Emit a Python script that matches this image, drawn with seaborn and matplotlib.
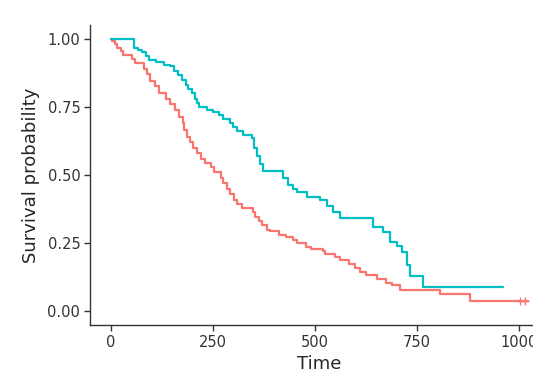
import seaborn as sns
import matplotlib.pyplot as plt
import pandas as pd

# step points (time, survival)
male_time = [0, 4, 11, 14, 26, 30, 53, 60, 81, 88, 95, 107, 118, 136, 145, 156, 168,
             176, 180, 186, 194, 201, 210, 222, 230, 245, 253, 269, 274, 285, 292, 301,
             310, 320, 347, 353, 363, 371, 382, 390, 413, 428, 445, 457, 477, 490, 519,
             524, 550, 561, 583, 597, 610, 624, 651, 675, 689, 708, 806, 880, 1022]
male_surv = [1.0, 0.99, 0.98, 0.965, 0.955, 0.94, 0.925, 0.91, 0.89, 0.87, 0.845, 0.825,
             0.80, 0.777, 0.76, 0.74, 0.714, 0.69, 0.665, 0.64, 0.62, 0.60, 0.58, 0.56,
             0.545, 0.53, 0.51, 0.49, 0.47, 0.45, 0.43, 0.41, 0.395, 0.38, 0.363, 0.345,
             0.33, 0.315, 0.30, 0.293, 0.28, 0.272, 0.262, 0.25, 0.235, 0.227, 0.22, 0.21,
             0.20, 0.19, 0.175, 0.16, 0.145, 0.135, 0.12, 0.105, 0.095, 0.08, 0.062, 0.037,
             0.037]

female_time = [0, 57, 66, 77, 85, 94, 110, 130, 144, 155, 165, 175, 183, 190, 198, 205,
               212, 217, 235, 250, 266, 275, 291, 300, 310, 323, 345, 350, 357, 365, 372,
               421, 435, 445, 455, 480, 512, 530, 543, 561, 642, 667, 683, 700, 713, 725,
               732, 764, 961]
female_surv = [1.0, 0.967, 0.958, 0.95, 0.935, 0.923, 0.915, 0.905, 0.90, 0.88, 0.865,
               0.85, 0.83, 0.815, 0.80, 0.78, 0.765, 0.75, 0.74, 0.73, 0.72, 0.705, 0.69,
               0.675, 0.66, 0.648, 0.637, 0.60, 0.568, 0.54, 0.513, 0.49, 0.465, 0.45,
               0.436, 0.418, 0.41, 0.385, 0.363, 0.344, 0.31, 0.29, 0.256, 0.238, 0.216,
               0.17, 0.128, 0.088, 0.088]

censor_time = [1003, 1015]
censor_surv = [0.037, 0.037]

x_ticks = [0, 250, 500, 750, 1000]
y_ticks = [0.0, 0.25, 0.5, 0.75, 1.0]
y_labels = ['0.00', '0.25', '0.50', '0.75', '1.00']

df = pd.DataFrame({
    'time': male_time + female_time,
    'surv': male_surv + female_surv,
    'sex': ['male'] * len(male_time) + ['female'] * len(female_time),
})

sns.set_style('ticks')
plt.rcParams['font.family'] = ['DejaVu Sans']

fig = plt.figure(figsize=(5.33, 3.73), dpi=100)
# plot area runs past the right edge, as in the cropped reference
ax = fig.add_axes([90 / 533, 48 / 373, 459 / 533, 300 / 373])

sns.lineplot(data=df, x='time', y='surv', hue='sex',
             palette={'male': '#F8766D', 'female': '#00BFC4'},
             drawstyle='steps-post', estimator=None, legend=False,
             linewidth=1.6, ax=ax)
sns.scatterplot(x=censor_time, y=censor_surv, marker='+', color='#F8766D',
                s=30, linewidth=1, ax=ax)

ax.set_xlim(-51, 1073)
ax.set_ylim(-0.05, 1.05)
ax.set_xticks(x_ticks)
ax.set_yticks(y_ticks)
ax.set_yticklabels(y_labels)
ax.set_xlabel('Time', fontsize=13, labelpad=4)
ax.set_ylabel('Survival probability', fontsize=13, labelpad=5)
ax.tick_params(labelsize=10.5, colors='#333333', length=4, width=1, pad=3)
ax.tick_params(labelcolor='#333333')
for side in ['top', 'right']:
    ax.spines[side].set_visible(False)
for side in ['left', 'bottom']:
    ax.spines[side].set_color('#333333')
    ax.spines[side].set_linewidth(1)

fig.savefig('out.png', dpi=100)
